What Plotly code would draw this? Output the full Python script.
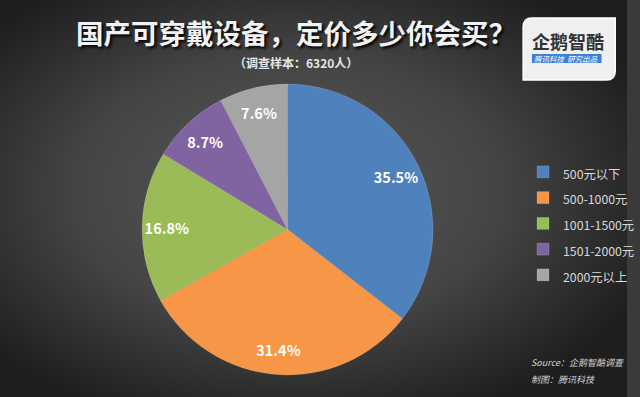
import plotly.graph_objects as go
import urllib.parse

categories = ["500元以下", "500-1000元", "1001-1500元", "1501-2000元", "2000元以上"]
shares = [35.5, 31.4, 16.8, 8.7, 7.6]
colors = ["#4F81BD", "#F79646", "#9BBB59", "#8064A2", "#A5A5A5"]

title_text = "国产可穿戴设备，定价多少你会买？"
subtitle_text = "（调查样本：6320人）"
source_lines = ["Source：企鹅智酷调查", "制图：腾讯科技"]

W, H = 640, 397
FONT = "Noto Sans CJK SC, Microsoft YaHei, sans-serif"


def px(x):
    return x / W


def py(y):
    return 1 - y / H


svg = (
    "<svg xmlns='http://www.w3.org/2000/svg' width='640' height='397' viewBox='0 0 640 397' preserveAspectRatio='none'>"
    "<defs><radialGradient id='g' cx='0.46' cy='0.48' r='0.62' gradientUnits='objectBoundingBox'>"
    "<stop offset='0' stop-color='#595959'/><stop offset='0.55' stop-color='#444444'/>"
    "<stop offset='1' stop-color='#1e1e1e'/></radialGradient></defs>"
    "<rect width='640' height='397' fill='url(#g)'/></svg>"
)
bg_src = "data:image/svg+xml;charset=utf-8," + urllib.parse.quote(svg)

legend_labels = ['<span style="font-size:12.3px">%s</span>' % c for c in categories]
label_texts = ["%.1f%%" % s for s in shares]

pie_domain = dict(x=[px(145), px(442)], y=[py(378), py(81)])

fig = go.Figure()
# the coloured pie
fig.add_trace(
    go.Pie(
        labels=legend_labels,
        values=shares,
        sort=False,
        direction="clockwise",
        rotation=0,
        marker=dict(colors=colors, line=dict(color="rgba(255,255,255,0.3)", width=0.5)),
        textinfo="none",
        hoverinfo="label+percent",
        domain=pie_domain,
    )
)
# transparent ring on top that carries the percentage labels near the rim
fig.add_trace(
    go.Pie(
        labels=categories,
        values=shares,
        sort=False,
        direction="clockwise",
        rotation=0,
        hole=0.66,
        marker=dict(colors=["rgba(0,0,0,0)"] * len(shares), line=dict(width=0)),
        text=label_texts,
        textinfo="text",
        textposition="inside",
        insidetextorientation="horizontal",
        textfont=dict(family=FONT, size=14.5, color="white", weight="bold"),
        showlegend=False,
        hoverinfo="skip",
        domain=pie_domain,
    )
)

shapes = []
x0, x1, y0, y1, r = 534, 628, 18, 80, 9
p = (
    f"M {px(x0+r)},{py(y0)} L {px(x1)},{py(y0)} L {px(x1)},{py(y1-r)} "
    f"Q {px(x1)},{py(y1)} {px(x1-r)},{py(y1)} L {px(x0)},{py(y1)} L {px(x0)},{py(y0+r)} "
    f"Q {px(x0)},{py(y0)} {px(x0+r)},{py(y0)} Z"
)
shapes.append(dict(type="path", xref="paper", yref="paper", path=p,
                   fillcolor="#f0f0f0", line=dict(color="#ffffff", width=1.5), layer="above"))
shapes.append(dict(type="rect", xref="paper", yref="paper",
                   x0=px(543), x1=px(614), y0=py(63), y1=py(54),
                   fillcolor="#3d7fd9", line=dict(width=0), layer="above"))

annotations = [
    dict(text=title_text, x=px(302), y=py(32), xref="paper", yref="paper",
         showarrow=False, xanchor="center", yanchor="middle",
         font=dict(family=FONT, size=27.5, color="#f2f2f2", weight="bold",
                   shadow="2px 2px 3px #000")),
    dict(text=subtitle_text, x=px(302), y=py(63), xref="paper", yref="paper",
         showarrow=False, xanchor="center", yanchor="middle",
         font=dict(family=FONT, size=12, color="#e6e6e6", weight="bold")),
    dict(text="企鹅智酷", x=px(580), y=py(41), xref="paper", yref="paper",
         showarrow=False, xanchor="center", yanchor="middle",
         font=dict(family=FONT, size=18, color="#333333", weight="bold")),
    dict(text="<i>腾讯科技  研究出品</i>", x=px(578), y=py(58.5), xref="paper", yref="paper",
         showarrow=False, xanchor="center", yanchor="middle",
         font=dict(family=FONT, size=7.5, color="#ffffff")),
    dict(text="<i>%s</i>" % source_lines[0], x=px(540), y=py(362), xref="paper", yref="paper",
         showarrow=False, xanchor="left", yanchor="middle",
         font=dict(family=FONT, size=9, color="#d0d0d0")),
    dict(text="<i>%s</i>" % source_lines[1], x=px(540), y=py(379), xref="paper", yref="paper",
         showarrow=False, xanchor="left", yanchor="middle",
         font=dict(family=FONT, size=9, color="#d0d0d0")),
]

fig.update_layout(
    width=W, height=H,
    margin=dict(l=0, r=0, t=0, b=0),
    paper_bgcolor="#3a3a3a",
    plot_bgcolor="rgba(0,0,0,0)",
    images=[dict(source=bg_src, xref="paper", yref="paper", x=0, y=1, sizex=1, sizey=1,
                 xanchor="left", yanchor="top", sizing="stretch", layer="below")],
    showlegend=True,
    legend=dict(x=px(534), y=py(154), xanchor="left", yanchor="top",
                font=dict(family=FONT, size=17.5, color="#d9d9d9"),
                bgcolor="rgba(0,0,0,0)", itemclick=False),
    shapes=shapes,
    annotations=annotations,
)

fig.write_html("out.html", config={"displayModeBar": False},
               post_script="document.body.style.margin='0px';document.body.style.overflow='hidden';")
